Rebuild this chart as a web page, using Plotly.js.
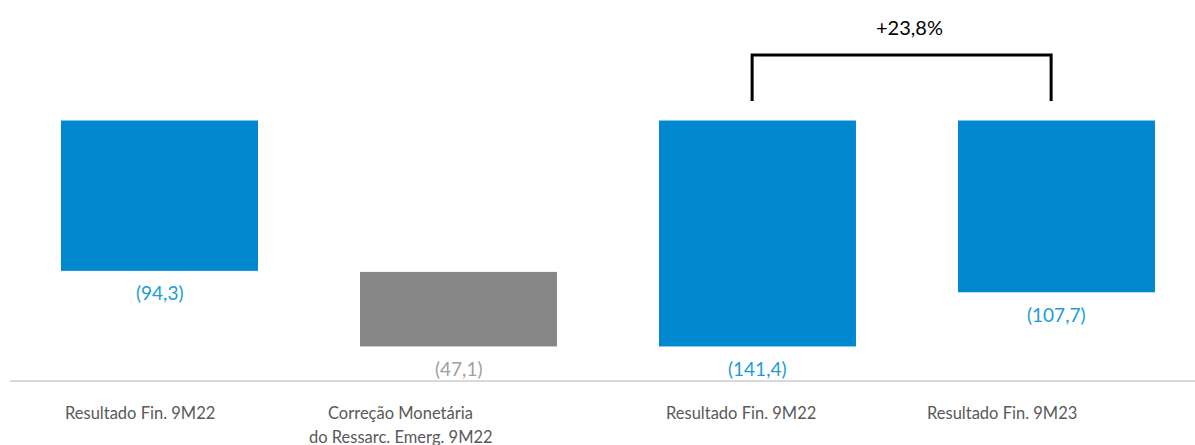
<!DOCTYPE html>
<html>
<head>
<meta charset="utf-8">
<script src="https://cdn.plot.ly/plotly-3.0.1.min.js"></script>
<style>html,body{margin:0;padding:0;background:#fff;}#chart{width:1195px;height:445px;}</style>
</head>
<body>
<div id="chart"></div>
<script>
// ---- data ----
const categories = ["Resultado Fin. 9M22", "Correção Monetária<br>do Ressarc. Emerg. 9M22", "Resultado Fin. 9M22", "Resultado Fin. 9M23"];
const values = [-94.3, -47.1, -141.4, -107.7];
const bases = [0, -94.3, 0, 0];
const valueLabels = ["(94,3)", "(47,1)", "(141,4)", "(107,7)"];
const barColors = ["#0088CF", "#878787", "#0088CF", "#0088CF"];
const labelColors = ["#1E9BD7", "#A0A0A0", "#1E9BD7", "#1E9BD7"];
const changeLabel = "+23,8%";
const labelShifts = [-20, -58, -17, -55];

const xs = categories.map((_, i) => i);
const FONT = "Lato, 'Noto Sans', sans-serif";

const trace = {
  type: "bar",
  x: xs,
  y: values,
  base: bases,
  width: 0.662,
  marker: { color: barColors, line: { color: "#ffffff", width: 1 } },
  hoverinfo: "skip"
};

const annotations = [];
// value labels
xs.forEach(i => {
  annotations.push({
    x: i, y: bases[i] + values[i], xref: "x", yref: "y",
    text: valueLabels[i], showarrow: false, yanchor: "top", yshift: -8,
    font: { family: FONT, size: 19, color: labelColors[i] }
  });
});
// category labels (each line separately for line spacing)
xs.forEach(i => {
  categories[i].split("<br>").forEach((line, k) => {
    annotations.push({
      x: i, y: 0, xref: "x", yref: "paper",
      text: line, showarrow: false, yanchor: "top", yshift: -21 - 24 * k, xshift: labelShifts[i],
      font: { family: FONT, size: 16.5, color: "#595959" }
    });
  });
});
// bracket text
const bx0 = 2 - 0.018, bx1 = 3 - 0.018;
annotations.push({
  x: (bx0 + bx1) / 2, y: 58, xref: "x", yref: "y", xshift: 8,
  text: changeLabel, showarrow: false,
  font: { family: FONT, size: 20, color: "#000000" }
});

const shapes = [{
  type: "path", xref: "x", yref: "y",
  path: `M ${bx0} 11.8 L ${bx0} 40.5 L ${bx1} 40.5 L ${bx1} 11.8`,
  line: { color: "#000000", width: 3 }
}];

const layout = {
  width: 1195, height: 445,
  margin: { l: 10, r: 0, t: 0, b: 65 },
  paper_bgcolor: "#ffffff", plot_bgcolor: "#ffffff",
  showlegend: false,
  xaxis: {
    range: [-0.5, -0.5 + 1185 / 299],
    showticklabels: false, ticks: "", showgrid: false, zeroline: false,
    showline: true, linecolor: "#D9D9D9", linewidth: 2
  },
  yaxis: { range: [-162, 74.8], visible: false, showgrid: false, zeroline: false },
  annotations: annotations,
  shapes: shapes
};

Plotly.newPlot("chart", [trace], layout, { displayModeBar: false, staticPlot: true });
</script>
</body>
</html>
